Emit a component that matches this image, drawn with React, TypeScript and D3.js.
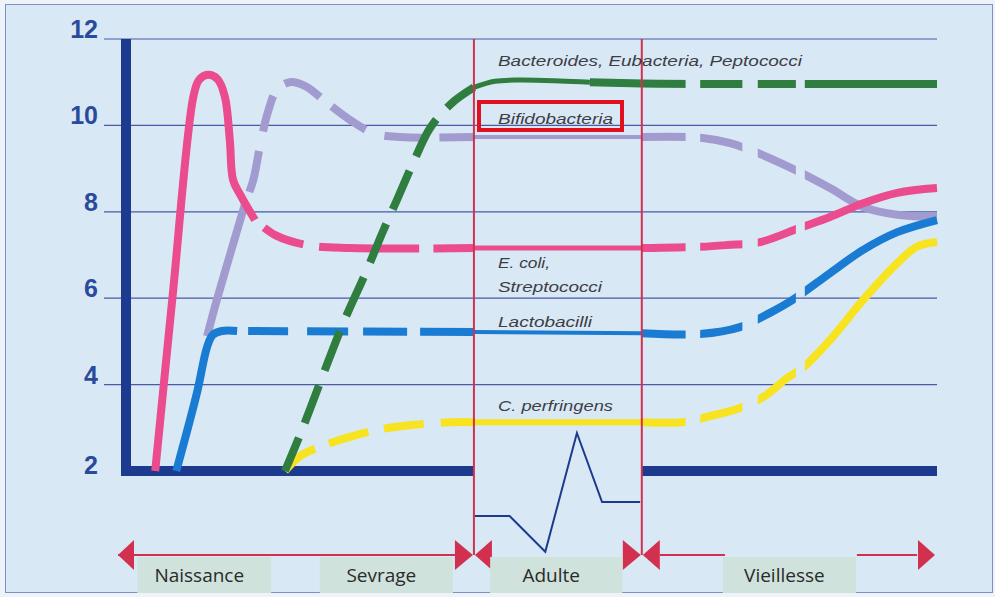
import React from 'react';
import * as d3 from 'd3';

const W = 995;
const H = 597;

// plot frame (pixels)
const X0 = 126;
const X1 = 937;
const Y_TOP = 39;
const Y_BOT = 471;

// time runs on an arbitrary 0..100 scale; the adult phase sits between these
const ADULT_START = 42.9;
const ADULT_END = 63.6;

const yTicks = [2, 4, 6, 8, 10, 12];

type Pt = [number, number];

// [time, log10 count]
const ecoli: Pt[] = [
  [3.6, 2.0], [5.7, 5.96], [8.3, 10.66], [9.0, 11.05], [10.1, 11.17], [11.3, 11.07],
  [12.2, 10.66], [12.8, 9.66], [13.2, 8.74], [14.1, 8.39], [15.9, 7.81], [18.4, 7.46],
  [22.3, 7.23], [27.6, 7.16], [42.9, 7.16], [63.6, 7.16], [70.8, 7.19], [74.1, 7.23],
  [78.2, 7.3], [83.1, 7.63], [86.8, 7.88], [90.9, 8.2], [95.1, 8.44], [100, 8.55],
];

const bifido: Pt[] = [
  [10.0, 5.12], [11.2, 5.96], [14.7, 8.2], [15.7, 8.74], [16.5, 9.5], [17.5, 10.31],
  [18.6, 10.82], [20.2, 11.0], [22.1, 10.91], [24.8, 10.52], [27.6, 10.13], [30.5, 9.82],
  [33.8, 9.73], [42.9, 9.73], [63.6, 9.73], [71.1, 9.71], [74.5, 9.59], [77.9, 9.36],
  [82.5, 8.97], [86.8, 8.55], [90.9, 8.11], [95.1, 7.93], [100, 7.88],
];

const bacteroides: Pt[] = [
  [19.6, 2.0], [21.7, 2.95], [24.2, 4.18], [26.8, 5.43], [29.7, 6.65], [31.6, 7.51],
  [33.4, 8.27], [35.4, 9.13], [37.5, 9.94], [40.2, 10.52], [42.9, 10.88], [45.5, 11.02],
  [48.5, 11.05], [53.5, 11.03], [57.2, 11.0], [63.6, 10.97], [70.8, 10.96], [100, 10.96],
];

const lactobacilli: Pt[] = [
  [6.2, 2.0], [8.75, 3.81], [10.0, 4.87], [10.7, 5.15], [11.8, 5.24], [13.7, 5.24],
  [42.9, 5.22], [63.6, 5.19], [70.8, 5.17], [75.7, 5.33], [79.4, 5.66], [82.2, 5.96],
  [86.8, 6.58], [90.9, 7.12], [95.1, 7.53], [100, 7.81],
];

const perfringens: Pt[] = [
  [19.6, 2.0], [21.5, 2.35], [24.2, 2.58], [27.6, 2.79], [30.9, 2.95], [35.0, 3.06],
  [40.0, 3.13], [42.9, 3.13], [63.6, 3.13], [68.6, 3.13], [72.0, 3.27], [75.7, 3.46],
  [78.8, 3.74], [81.5, 4.15], [83.4, 4.38], [86.8, 5.03], [90.9, 5.96], [95.1, 6.81],
  [97.5, 7.19], [100, 7.3],
];

// small profile drawn inside the adult window
const adultProfile: Pt[] = [
  [43.0, 0.96], [47.3, 0.96], [51.7, 0.13], [55.6, 2.88], [58.7, 1.28], [63.4, 1.28],
];

const phases = [
  { name: 'Naissance', from: 1.4, to: 17.9 },
  { name: 'Sevrage', from: 23.9, to: 40.3 },
  { name: 'Adulte', from: 44.9, to: 61.2 },
  { name: 'Vieillesse', from: 73.6, to: 90.0 },
];

// gaps of the old-age dashes (time units)
const lateGaps: Pt[] = [[69.0, 70.8], [76.0, 77.9], [82.6, 83.7]];

const labels = [
  { text: 'Bacteroides, Eubacteria, Peptococci', y: 66, len: 304 },
  { text: 'Bifidobacteria', y: 124, len: 115 },
  { text: 'E. coli,', y: 268, len: 52 },
  { text: 'Streptococci', y: 292, len: 104 },
  { text: 'Lactobacilli', y: 327, len: 94 },
  { text: 'C. perfringens', y: 411, len: 115 },
];

const SERIES = [
  { key: 'bifido', pts: bifido, color: '#a29bd0', solidTo: 14.7, thin: 4, thickFrom: ADULT_END,
    dash: '0 12 42 20 37 17 40 15 41 20 40 15 300' },
  { key: 'ecoli', pts: ecoli, color: '#ea4c8e', solidTo: 15.9, thin: 5, thickFrom: ADULT_END,
    dash: '0 12 43 16 100 14 300' },
  { key: 'lacto', pts: lactobacilli, color: '#1a7bd2', solidTo: 13.7, thin: 4, thickFrom: ADULT_END,
    dash: '0 11 40 19 41 15 44 13 300' },
  { key: 'perf', pts: perfringens, color: '#f7e31f', solidTo: 19.6, thin: 6, thickFrom: ADULT_END,
    dash: '38 15 41 16 40 17 300' },
  { key: 'bact', pts: bacteroides, color: '#2f7d3f', solidTo: 19.6, thin: 5, thickFrom: 57.2,
    dash: '36 16 40 16 42 17 42 16 42 16 42 16 42 16 300' },
];

const NAVY = '#1c3a8e';
const GRID = '#4a5aa6';
const RED = '#d2304f';
const THICK = 8;

export default function App() {
  const x = d3.scaleLinear().domain([0, 100]).range([X0, X1]);
  const y = d3.scaleLinear().domain([2, 12]).range([Y_BOT, Y_TOP]);

  const line = d3.line<Pt>()
    .x((d) => x(d[0]))
    .y((d) => y(d[1]))
    .curve(d3.curveCatmullRom.alpha(0.5));

  const part = (pts: Pt[], a: number, b: number) =>
    line(pts.filter((p) => p[0] >= a - 1e-6 && p[0] <= b + 1e-6)) || '';

  const xa = x(ADULT_START);
  const xb = x(ADULT_END);
  const arrowY = 555;
  const ah = 15;

  // visible x bands for the late dashed part
  const bands: Pt[] = [];
  let start = 0;
  lateGaps.forEach(([g0, g1]) => {
    bands.push([start, x(g0)]);
    start = x(g1);
  });
  bands.push([start, W]);

  const tri = (tipX: number, baseX: number) =>
    `M${tipX},${arrowY}L${baseX},${arrowY - ah}L${baseX},${arrowY + ah}Z`;

  const font = '"Liberation Sans", Arial, sans-serif';

  return (
    <svg width={W} height={H} style={{ position: 'absolute', left: 0, top: 0, display: 'block' }}>
      <defs>
        <clipPath id="late-dash">
          {bands.map(([b0, b1], i) => (
            <rect key={i} x={b0} y={0} width={b1 - b0} height={H} />
          ))}
        </clipPath>
      </defs>

      <rect x={0} y={0} width={W} height={H} fill="#eef3fa" />
      <rect x={5.5} y={4.5} width={987} height={588} fill="#d9e8f5" stroke="#7d8fc4" strokeWidth={1} />

      {/* grid */}
      {yTicks.filter((t) => t !== 2).map((t) => (
        <line key={t} x1={104} x2={X1} y1={y(t)} y2={y(t)} stroke={GRID} strokeWidth={1.2} />
      ))}
      {yTicks.map((t) => (
        <text key={t} x={98} y={y(t) + (t === 2 ? 3 : -1)} textAnchor="end"
          fontFamily={font} fontWeight="bold" fontSize={25} fill="#2a4b9b">{t}</text>
      ))}

      {/* axes */}
      <line x1={X0} x2={X0} y1={Y_TOP} y2={Y_BOT + 5} stroke={NAVY} strokeWidth={10} />
      <line x1={X0 - 5} x2={xa} y1={Y_BOT} y2={Y_BOT} stroke={NAVY} strokeWidth={10} />
      <line x1={xb} x2={X1} y1={Y_BOT} y2={Y_BOT} stroke={NAVY} strokeWidth={10} />

      {/* curves */}
      {SERIES.map((s) => {
        const t0 = s.pts[0][0];
        return (
          <g key={s.key} fill="none" stroke={s.color} strokeLinecap="butt" strokeLinejoin="round">
            {s.solidTo > t0 && <path d={part(s.pts, t0, s.solidTo)} strokeWidth={THICK} />}
            <path d={part(s.pts, s.solidTo, ADULT_START)} strokeWidth={THICK} strokeDasharray={s.dash} />
            <path d={part(s.pts, ADULT_START, s.thickFrom)} strokeWidth={s.thin} />
            <path d={part(s.pts, s.thickFrom, 100)} strokeWidth={THICK} clipPath="url(#late-dash)" />
          </g>
        );
      })}

      {/* adult window */}
      <path d={d3.line<Pt>().x((d) => x(d[0])).y((d) => y(d[1]))(adultProfile) || ''}
        fill="none" stroke={NAVY} strokeWidth={2} />
      <line x1={xa} x2={xa} y1={Y_TOP} y2={arrowY} stroke={RED} strokeWidth={2} />
      <line x1={xb} x2={xb} y1={Y_TOP} y2={arrowY} stroke={RED} strokeWidth={2} />

      {/* series labels */}
      <rect x={479} y={102} width={143} height={28} fill="none" stroke="#e0101e" strokeWidth={4} />
      {labels.map((l) => (
        <text key={l.text} x={498} y={l.y} fontFamily={font} fontStyle="italic" fontSize={15}
          fill="#3d3d45" textLength={l.len} lengthAdjust="spacingAndGlyphs">{l.text}</text>
      ))}

      {/* phase arrows */}
      <g stroke={RED} strokeWidth={2}>
        <line x1={X0 - 8} x2={xa - 18} y1={arrowY} y2={arrowY} />
        <line x1={xb + 18} x2={x(phases[3].from) + 2} y1={arrowY} y2={arrowY} />
        <line x1={x(phases[3].to) + 1} x2={X1 - 20} y1={arrowY} y2={arrowY} />
      </g>
      <g fill={RED}>
        <path d={tri(X0 - 8, X0 + 8)} />
        <path d={tri(xa - 1, xa - 19)} />
        <path d={tri(xa + 1, xa + 18)} />
        <path d={tri(xb - 1, xb - 19)} />
        <path d={tri(xb + 1, xb + 18)} />
        <path d={tri(X1 - 2, X1 - 19)} />
      </g>
      {phases.map((p) => {
        const b0 = x(p.from);
        const b1 = x(p.to);
        return (
          <g key={p.name}>
            <rect x={b0} y={557} width={b1 - b0} height={36} fill="#cfe2dc" />
            <text x={(b0 + b1) / 2 - 5} y={582} textAnchor="middle" fontFamily='"Open Sans", sans-serif'
              fontSize={19} fill="#2a2a2a">{p.name}</text>
          </g>
        );
      })}
    </svg>
  );
}
